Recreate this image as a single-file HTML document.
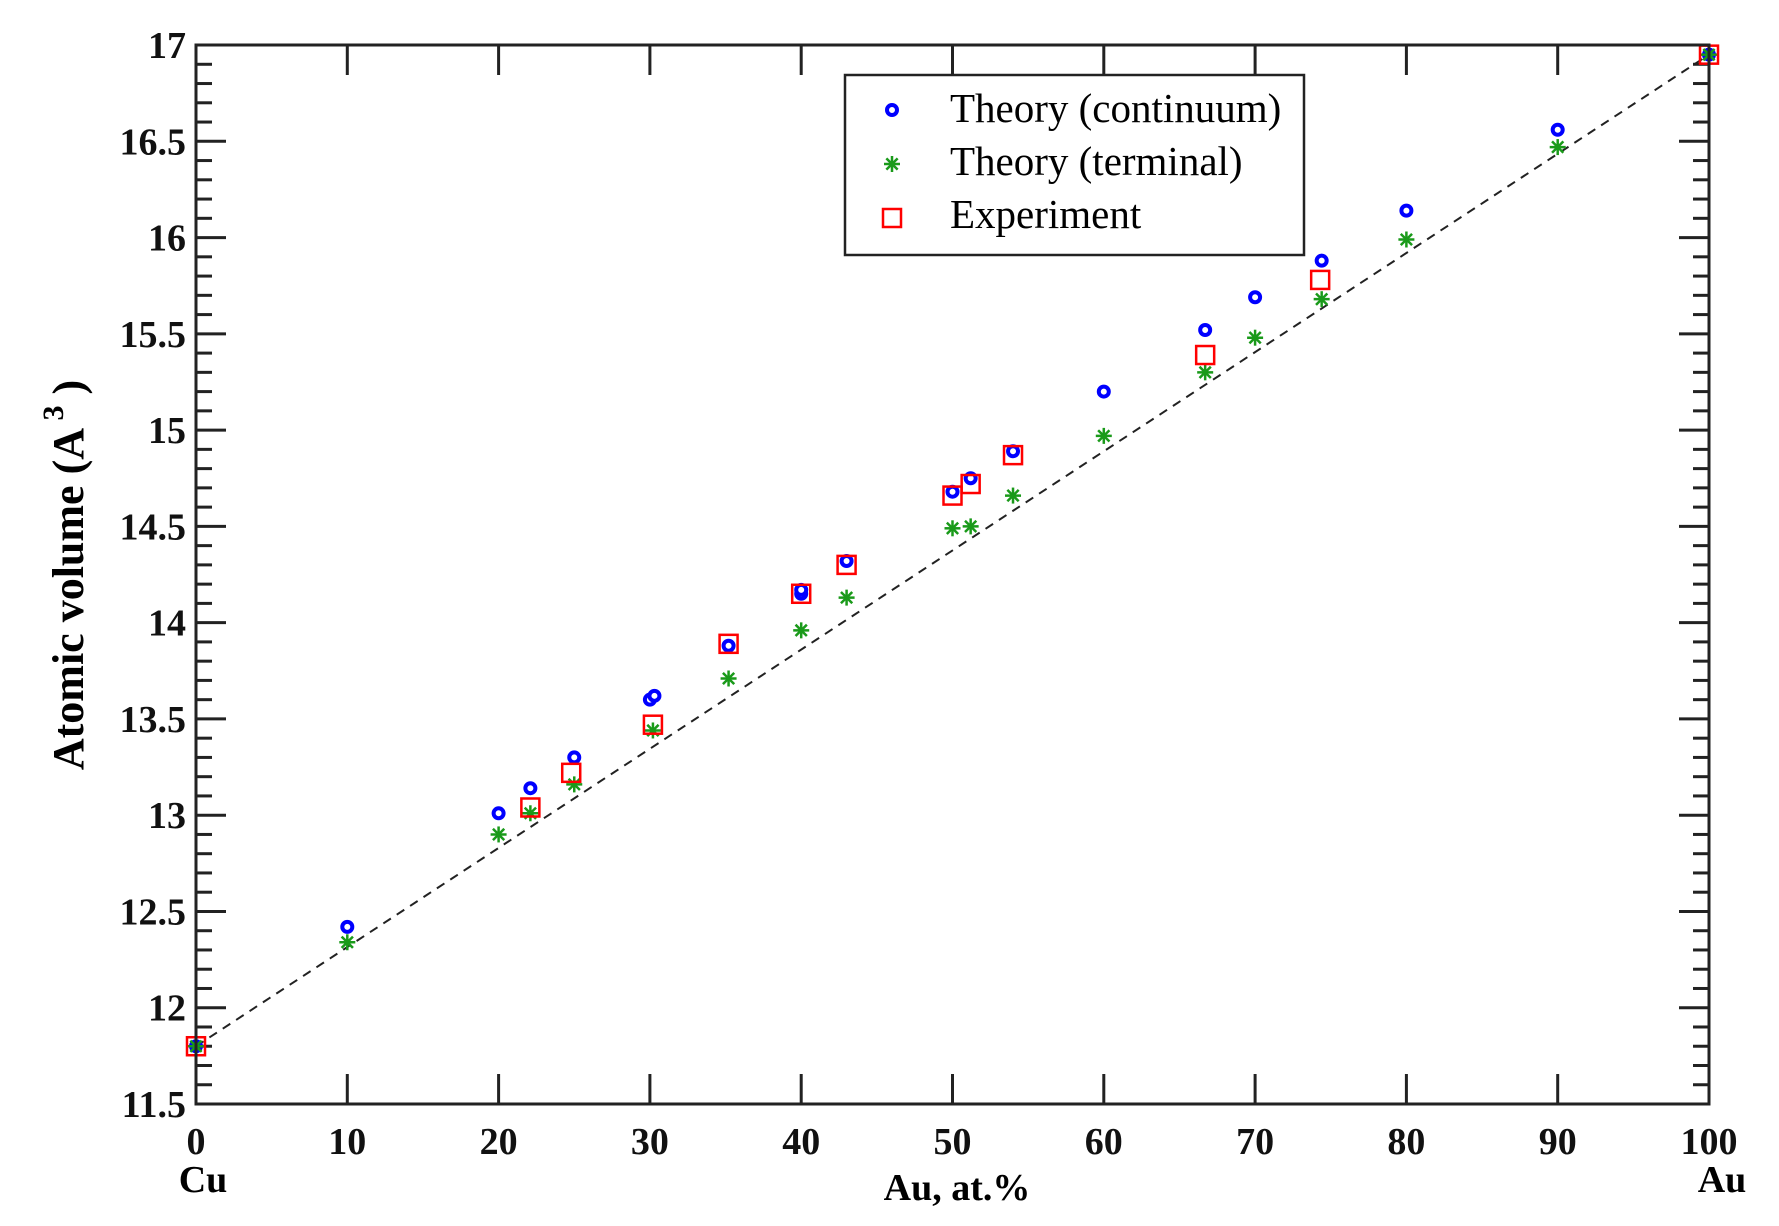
<!DOCTYPE html>
<html><head><meta charset="utf-8"><style>
html,body{margin:0;padding:0;background:#fff;}
svg{display:block;}
text{font-family:"Liberation Serif",serif;}
</style></head><body>
<svg id="s" width="1779" height="1226" viewBox="0 0 1779 1226" xmlns="http://www.w3.org/2000/svg">
<g id="g"></g>
<rect x="196" y="45" width="1513" height="1059" fill="none" stroke="#222" stroke-width="3"/>
<g font-weight="bold" font-size="38" fill="#111" text-anchor="middle" id="xl"></g>
<g font-weight="bold" font-size="38" fill="#111" text-anchor="end" id="yl"></g>
<text x="203" y="1192" font-size="38" font-weight="bold" text-anchor="middle">Cu</text>
<text x="1722" y="1192" font-size="38" font-weight="bold" text-anchor="middle">Au</text>
<text x="957" y="1200" font-size="38" font-weight="bold" text-anchor="middle">Au, at.%</text>
<text transform="translate(83,575) rotate(-90)" font-size="44" font-weight="bold" text-anchor="middle">Atomic volume (A<tspan dy="-20" font-size="30"> 3</tspan><tspan dy="20"> )</tspan></text>
<rect x="845" y="75" width="459" height="180" fill="#fff" stroke="#222" stroke-width="2.5"/>
<text x="950" y="122" font-size="41">Theory (continuum)</text>
<text x="950" y="175" font-size="41">Theory (terminal)</text>
<text x="950" y="228" font-size="41">Experiment</text>
<g id="lg"></g>
</svg>
<script>
const NS="http://www.w3.org/2000/svg";
const g=document.getElementById('g');
const X=v=>196+v*15.13, Y=v=>1104-(v-11.5)*192.54;
function el(t,a,p){const e=document.createElementNS(NS,t);for(const k in a)e.setAttribute(k,a[k]);(p||g).appendChild(e);return e;}
for(let i=0;i<=100;i+=10){const x=X(i);
 el('line',{x1:x,y1:1104,x2:x,y2:1074,stroke:'#222','stroke-width':3});
 el('line',{x1:x,y1:45,x2:x,y2:75,stroke:'#222','stroke-width':3});
 const t=el('text',{x:x,y:1154},document.getElementById('xl'));t.textContent=i;}
for(let k=0;k<=55;k++){const v=11.5+k*0.1,y=Y(v),maj=k%5==0,L=maj?30:16;
 el('line',{x1:196,y1:y,x2:196+L,y2:y,stroke:'#222','stroke-width':3});
 el('line',{x1:1709,y1:y,x2:1709-L,y2:y,stroke:'#222','stroke-width':3});
 if(maj){const t=el('text',{x:186,y:y+13},document.getElementById('yl'));t.textContent=(Math.round(v*10)/10).toString();}}
el('line',{x1:X(0),y1:Y(11.8),x2:X(100),y2:Y(16.95),stroke:'#222','stroke-width':2,'stroke-dasharray':'9,7'});
const exp=[[0,11.8],[22.1,13.04],[24.8,13.22],[30.2,13.47],[35.2,13.89],[40,14.15],[43,14.3],[50,14.66],[51.2,14.72],[54,14.87],[66.7,15.39],[74.3,15.78],[100,16.95]];
const ter=[[0,11.8],[10,12.34],[20,12.9],[22.1,13.01],[25,13.16],[30.2,13.44],[35.2,13.71],[40,13.96],[43,14.13],[50,14.49],[51.2,14.5],[54,14.66],[60,14.97],[66.7,15.3],[70,15.48],[74.4,15.68],[80,15.99],[90,16.47],[100,16.95]];
const con=[[0,11.8],[10,12.42],[20,13.01],[22.1,13.14],[25,13.3],[30,13.6],[30.3,13.62],[35.2,13.88],[40,14.15],[40,14.17],[43,14.32],[50,14.68],[51.2,14.75],[54,14.89],[60,15.2],[66.7,15.52],[70,15.69],[74.4,15.88],[80,16.14],[90,16.56],[100,16.95]];
function sq(x,y,p){el('rect',{x:x-9,y:y-9,width:18,height:18,fill:'none',stroke:'#f00','stroke-width':2.5},p);}
function star(x,y,p){for(let a=0;a<4;a++){const r=a*Math.PI/4,dx=8*Math.cos(r),dy=8*Math.sin(r);el('line',{x1:x-dx,y1:y-dy,x2:x+dx,y2:y+dy,stroke:'#1a9a1a','stroke-width':2.5},p);}}
function circ(x,y,p){el('circle',{cx:x,cy:y,r:5,fill:'#fff',stroke:'#00f','stroke-width':4},p);}
con.forEach(p=>circ(X(p[0]),Y(p[1])));
ter.forEach(p=>star(X(p[0]),Y(p[1])));
exp.forEach(p=>sq(X(p[0]),Y(p[1])));
const lg=document.getElementById('lg');
circ(892,110,lg);star(892,164,lg);sq(892,218,lg);
</script>
</body></html>
